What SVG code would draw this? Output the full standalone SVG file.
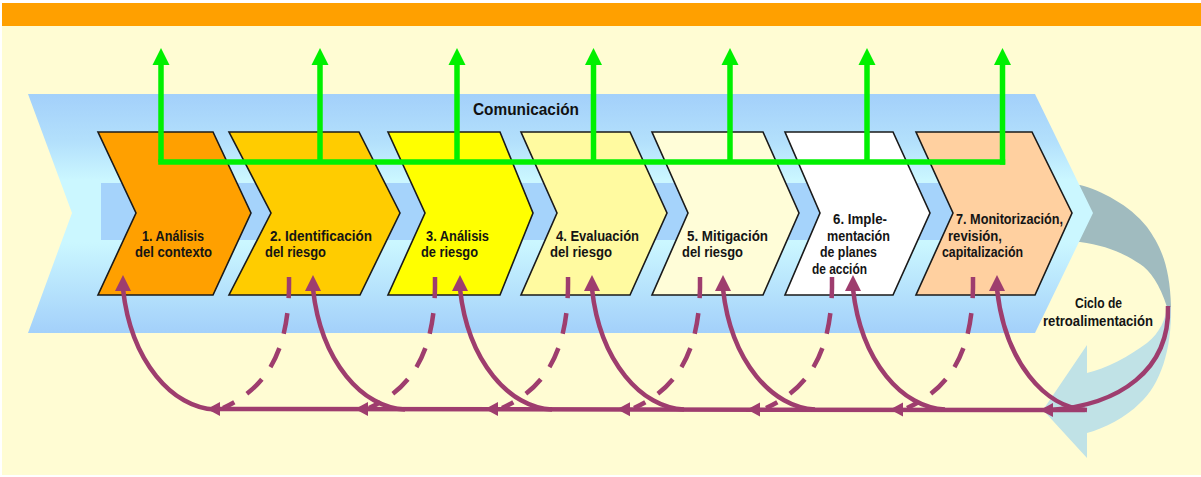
<svg xmlns="http://www.w3.org/2000/svg" width="1201" height="477" viewBox="0 0 1201 477">
  <defs>
    <linearGradient id="bandGrad" gradientUnits="userSpaceOnUse" x1="0" y1="94" x2="0" y2="333">
      <stop offset="0" stop-color="#A3D0FA"/>
      <stop offset="0.2" stop-color="#B3E0FC"/>
      <stop offset="0.36" stop-color="#CBF7FF"/>
      <stop offset="0.62" stop-color="#CBF7FF"/>
      <stop offset="1" stop-color="#A3D0FA"/>
    </linearGradient>
    <style>
      .chev { stroke: #1a1a1a; stroke-width: 1.6; stroke-linejoin: miter; }
      .lbl { font-family: "Liberation Sans", Arial, sans-serif; font-weight: 700; font-size: 14px; fill: #141414; }
      .green { stroke: #00F000; stroke-width: 5.5; fill: none; }
      .garrow { fill: #00F000; }
      .purple { stroke: #9E3D6E; stroke-width: 4.5; fill: none; }
      .dash { stroke-dasharray: 21 15; }
      .parrow { fill: #9E3D6E; }
    </style>
  </defs>

  <!-- background -->
  <rect x="0" y="0" width="1201" height="477" fill="#FFFFFF"/>
  <rect x="2" y="3" width="1199" height="472" fill="#FFFCD3"/>
  <rect x="2" y="3" width="1199" height="23" fill="#FFA000"/>

  <!-- feedback cycle arrow -->
  <g id="feedback-cycle">
    <path d="M1060,184 L1080,185 C1100,190 1130,205 1147,227 C1160,245 1170,265 1171,307 L1167,307 C1160,285 1150,270 1140,264 C1125,254 1105,245 1080,242 L1060,242 Z" fill="#A0BBBF"/>
    <path d="M1171,307 C1172,350 1160,385 1140,403 C1125,418 1105,428 1087,433 L1087,458 L1043,410 L1087,345 L1087,373 C1105,369 1130,356 1147,343 C1160,333 1166,318 1167,307 Z" fill="#C0E2E6"/>
  </g>

  <!-- main band -->
  <g id="band">
    <polygon points="28,94 1035,94 1093,213 1035,333 28,333 72,213" fill="url(#bandGrad)"/>
    <rect x="101" y="183" width="944" height="57" fill="#A5D3FB"/>
  </g>

  <!-- chevrons -->
  <g id="step-1">
    <polygon class="chev" points="98,132 213,132 251,213 213,295 98,295 136,213" fill="#FFA000"/>
    <text class="lbl" x="142" y="241" textLength="62" lengthAdjust="spacingAndGlyphs">1. Análisis</text>
    <text class="lbl" x="135" y="257" textLength="77" lengthAdjust="spacingAndGlyphs">del contexto</text>
  </g>
  <g id="step-2">
    <polygon class="chev" points="229,132 359,132 400,213 360,295 229,295 271,213" fill="#FFCC00"/>
    <text class="lbl" x="270" y="241" textLength="102" lengthAdjust="spacingAndGlyphs">2. Identificación</text>
    <text class="lbl" x="265" y="257" textLength="61" lengthAdjust="spacingAndGlyphs">del riesgo</text>
  </g>
  <g id="step-3">
    <polygon class="chev" points="388,132 500,132 533,213 500,295 388,295 425,213" fill="#FFFF00"/>
    <text class="lbl" x="426" y="241" textLength="63" lengthAdjust="spacingAndGlyphs">3. Análisis</text>
    <text class="lbl" x="421" y="257" textLength="57" lengthAdjust="spacingAndGlyphs">de riesgo</text>
  </g>
  <g id="step-4">
    <polygon class="chev" points="521,132 630,132 667,213 630,295 521,295 557,213" fill="#FFFAA0"/>
    <text class="lbl" x="556" y="241" textLength="83" lengthAdjust="spacingAndGlyphs">4. Evaluación</text>
    <text class="lbl" x="550" y="257" textLength="62" lengthAdjust="spacingAndGlyphs">del riesgo</text>
  </g>
  <g id="step-5">
    <polygon class="chev" points="652,132 763,132 799,213 763,295 652,295 688,213" fill="#FFFDD8"/>
    <text class="lbl" x="687" y="241" textLength="81" lengthAdjust="spacingAndGlyphs">5. Mitigación</text>
    <text class="lbl" x="682" y="257" textLength="61" lengthAdjust="spacingAndGlyphs">del riesgo</text>
  </g>
  <g id="step-6">
    <polygon class="chev" points="785,132 893,132 930,213 893,295 785,295 820,213" fill="#FFFFFF"/>
    <text class="lbl" x="833" y="224" textLength="54" lengthAdjust="spacingAndGlyphs">6. Imple-</text>
    <text class="lbl" x="827" y="241" textLength="63" lengthAdjust="spacingAndGlyphs">mentación</text>
    <text class="lbl" x="820" y="257" textLength="57" lengthAdjust="spacingAndGlyphs">de planes</text>
    <text class="lbl" x="812" y="274" textLength="55" lengthAdjust="spacingAndGlyphs">de acción</text>
  </g>
  <g id="step-7">
    <polygon class="chev" points="916,132 1032,132 1072,213 1035,295 916,295 953,213" fill="#FFD0A0"/>
    <text class="lbl" x="956" y="224" textLength="107" lengthAdjust="spacingAndGlyphs">7. Monitorización,</text>
    <text class="lbl" x="948" y="241" textLength="54" lengthAdjust="spacingAndGlyphs">revisión,</text>
    <text class="lbl" x="942" y="257" textLength="81" lengthAdjust="spacingAndGlyphs">capitalización</text>
  </g>

  <g id="label-comunicacion">
    <text x="473" y="115" textLength="106" lengthAdjust="spacingAndGlyphs" style="font-family: 'Liberation Sans', Arial, sans-serif; font-weight: 700; font-size: 17px; fill: #111;">Comunicación</text>
  </g>
  <g id="label-ciclo">
    <text class="lbl" x="1075" y="308" textLength="47" lengthAdjust="spacingAndGlyphs">Ciclo de</text>
    <text class="lbl" x="1043" y="326" textLength="110" lengthAdjust="spacingAndGlyphs">retroalimentación</text>
  </g>

  <!-- connectors -->
  <g id="connectors">
    <!-- communication (green) -->
    <g id="communication-lines">
      <line class="green" x1="158.2" y1="162" x2="1005.2" y2="162"/>
      <line class="green" x1="161" y1="162" x2="161" y2="62"/>
      <line class="green" x1="320" y1="162" x2="320" y2="62"/>
      <line class="green" x1="457" y1="162" x2="457" y2="62"/>
      <line class="green" x1="593.5" y1="162" x2="593.5" y2="62"/>
      <line class="green" x1="730" y1="162" x2="730" y2="62"/>
      <line class="green" x1="867" y1="162" x2="867" y2="62"/>
      <line class="green" x1="1002.5" y1="164.7" x2="1002.5" y2="62"/>
      <polygon class="garrow" points="161,48 152.5,65 169.5,65"/>
      <polygon class="garrow" points="320,48 311.5,65 328.5,65"/>
      <polygon class="garrow" points="457,48 448.5,65 465.5,65"/>
      <polygon class="garrow" points="593.5,48 585,65 602,65"/>
      <polygon class="garrow" points="730,48 721.5,65 738.5,65"/>
      <polygon class="garrow" points="867,48 858.5,65 875.5,65"/>
      <polygon class="garrow" points="1002.5,48 994,65 1011,65"/>
    </g>

    <!-- feedback (purple) -->
    <g id="feedback-lines">
      <line class="purple" x1="1085" y1="410" x2="212" y2="409"/>
      <polygon class="parrow" points="207,409 220,402 220,416"/>
      <polygon class="parrow" points="355,409 368,402 368,416"/>
      <polygon class="parrow" points="485,409 498,402 498,416"/>
      <polygon class="parrow" points="617,409.2 630,402.2 630,416.2"/>
      <polygon class="parrow" points="747,409.4 760,402.4 760,416.4"/>
      <polygon class="parrow" points="890,409.6 903,402.6 903,416.6"/>
      <polygon class="parrow" points="1040,410 1053,403 1053,417"/>

      <!-- solid upward curves -->
      <path class="purple" d="M215,409.5 C173,408 131,362 123,289"/>
      <path class="purple" d="M405,409.5 C363,408 321,362 313,289"/>
      <path class="purple" d="M552,409.5 C510,408 468,362 460,289"/>
      <path class="purple" d="M684,409.5 C642,408 600,362 592,289"/>
      <path class="purple" d="M815,409.5 C773,408 731,362 723,289"/>
      <path class="purple" d="M945,409.5 C903,408 861,362 853,289"/>
      <path class="purple" d="M1087,410 C1045,408 1005,362 997,289"/>
      <polygon class="parrow" points="123,275 115,291 131,291"/>
      <polygon class="parrow" points="313,275 305,291 321,291"/>
      <polygon class="parrow" points="460,275 452,291 468,291"/>
      <polygon class="parrow" points="592,275 584,291 600,291"/>
      <polygon class="parrow" points="723,275 715,291 731,291"/>
      <polygon class="parrow" points="853,275 845,291 861,291"/>
      <polygon class="parrow" points="997,275 989,291 1005,291"/>

      <!-- dashed downward curves -->
      <path class="purple dash" d="M289,277 C290,340 274,385 223,408"/>
      <path class="purple dash" d="M435,277 C436,340 420,385 369,408"/>
      <path class="purple dash" d="M568,277 C569,340 553,385 502,408"/>
      <path class="purple dash" d="M700,277 C701,340 685,385 634,408"/>
      <path class="purple dash" d="M832,277 C833,340 817,385 766,408"/>
      <path class="purple dash" d="M973,277 C974,340 958,385 907,408"/>

      <!-- cycle return -->
      <path class="purple" d="M1168,306 C1170,370 1120,405 1050,410"/>
    </g>
  </g>
</svg>
